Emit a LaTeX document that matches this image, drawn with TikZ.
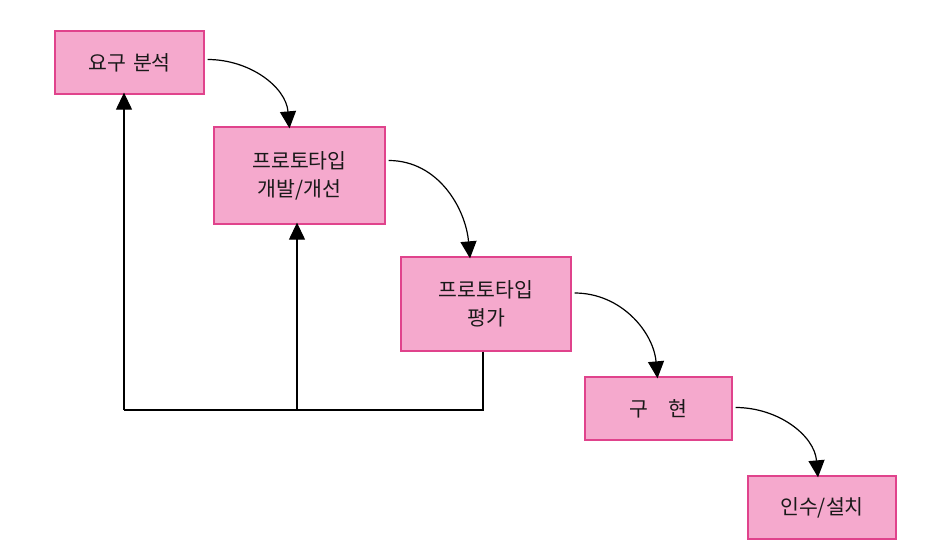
\documentclass[tikz,border=0pt]{standalone}
\usepackage{fontspec}
\setmainfont{Noto Sans CJK KR}
\usetikzlibrary{arrows.meta}
\definecolor{boxfill}{HTML}{F5A9CD}
\definecolor{boxline}{HTML}{E0438C}
\tikzset{
  stage/.style={draw=boxline, fill=boxfill, line width=1.3pt, inner sep=0pt, align=center, text=black!90, font=\fontsize{20.5}{28}\selectfont},
  flow/.style={line width=1.2pt, -{Triangle[length=17pt,width=16pt]}},
  fb/.style={line width=1.3pt}
}
\begin{document}
\begin{tikzpicture}[x=1pt,y=-1pt]
\useasboundingbox (0,0) rectangle (941,552);
\node[stage, minimum width=149pt, minimum height=63pt] (a) at (129.5,62.5) {요구\hspace{0.35em}분석};
\node[stage, minimum width=171pt, minimum height=97pt] (b) at (299.5,175.5) {프로토타입\\개발/개선};
\node[stage, minimum width=170pt, minimum height=94pt] (c) at (486,304) {프로토타입\\평가};
\node[stage, minimum width=147pt, minimum height=63pt] (d) at (658.5,408.5) {구\hspace{1em}현};
\node[stage, minimum width=148pt, minimum height=63pt] (e) at (822,507.5) {인수/설치};
% forward arrows
\draw[flow] ([xshift=3pt,yshift=3pt]a.east) to[out=0,in=95] ([xshift=-10pt,yshift=-2pt]b.north);
\draw[flow] ([xshift=3pt,yshift=15pt]b.east) to[out=0,in=95] ([xshift=-16pt,yshift=-2pt]c.north);
\draw[flow] ([xshift=3pt,yshift=11pt]c.east) to[out=0,in=95] ([xshift=-1pt,yshift=-2pt]d.north);
\draw[flow] ([xshift=3pt,yshift=1pt]d.east) to[out=0,in=95] ([xshift=-4pt,yshift=-2pt]e.north);
% feedback
\coordinate (p1) at (483,410);
\coordinate (p2) at (297,410);
\coordinate (p3) at (124,410);
\draw[fb] (c.south -| p1) -- (p1) -- (p3);
\draw[flow] (p3) -- ([yshift=2pt]a.south -| p3);
\draw[flow] (p2) -- ([yshift=2pt]b.south -| p2);
\end{tikzpicture}
\end{document}
